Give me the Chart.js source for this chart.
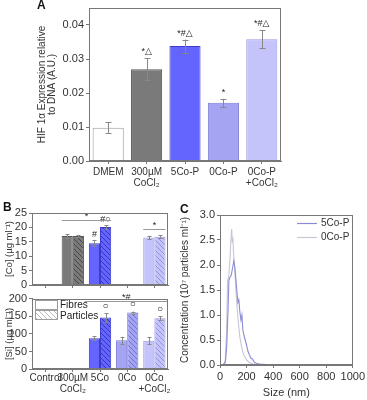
<!DOCTYPE html>
<html>
<head>
<meta charset="utf-8">
<script src="https://cdn.jsdelivr.net/npm/chart.js@4.4.1/dist/chart.umd.min.js"></script>
<style>
  body { margin: 0; background: #fff; }
  #fig { position: relative; width: 367px; height: 400px; overflow: hidden; background: #fff;
         font-family: "Liberation Sans", Arial, sans-serif; }
  canvas { position: absolute; }
  .tag { position: absolute; font-weight: bold; font-size: 12px; color: #111; z-index: 2; }
</style>
</head>
<body>
<div id="fig">
  <canvas id="chartA" width="300" height="200" style="left:0;top:0;width:300px;height:200px"></canvas>
  <canvas id="chartCo" width="180" height="92" style="left:0;top:200px;width:180px;height:92px"></canvas>
  <canvas id="chartSi" width="180" height="108" style="left:0;top:292px;width:180px;height:108px"></canvas>
  <canvas id="chartC" width="187" height="200" style="left:180px;top:200px;width:187px;height:200px"></canvas>
  <div class="tag" style="left:37px;top:-2px">A</div>
  <div class="tag" style="left:3px;top:200px">B</div>
  <div class="tag" style="left:180px;top:202px">C</div>
</div>
<script>
// ---- panel A: HIF 1a expression
const hifLabels = ['DMEM', ['300µM', 'CoCl₂'], '5Co-P', '0Co-P', ['0Co-P', '+CoCl₂']];
const hifValues = [0.0098, 0.0270, 0.0338, 0.0171, 0.0358];
const hifErrors = [0.0016, 0.0033, 0.0019, 0.0012, 0.0027];
const hifMarks = ['', '*△', '*#△', '*', '*#△'];

// ---- panel B: ion release
const ionLabels = ['Control', ['300µM', 'CoCl₂'], '5Co', '0Co', ['0Co', '+CoCl₂']];
const coFibres = [null, 17.0, 14.5, null, 16.5];
const coFibresErr = [0, 0.7, 1.0, 0, 0.6];
const coParticles = [null, 17.0, 20.1, null, 16.8];
const coParticlesErr = [0, 0.4, 0.6, 0, 0.4];
const siFibres = [null, null, 88, 82, 81];
const siFibresErr = [0, 0, 5, 10, 10];
const siParticles = [null, null, 147, 161, 145];
const siParticlesErr = [0, 0, 12, 3, 6];

// ---- panel C: particle size distribution
const size5Co = [0, 20, 40, 50, 60, 67, 75, 85, 95, 104, 112, 120, 128, 135, 142, 150, 158, 165, 172, 180, 190, 200, 210, 222, 232, 244, 260, 280, 300, 350, 400, 1000];
const conc5Co = [0, 0, 0.05, 0.35, 1.05, 1.7, 1.75, 1.8, 1.95, 2.08, 1.95, 1.7, 1.45, 1.25, 1.3, 1.05, 0.9, 1.0, 0.7, 0.6, 0.5, 0.4, 0.28, 0.2, 0.14, 0.12, 0.05, 0.03, 0.02, 0.01, 0, 0];
const size0Co = [0, 30, 40, 50, 57, 65, 75, 82, 88, 93, 97, 102, 110, 120, 130, 140, 150, 160, 170, 180, 200, 220, 250, 300, 1000];
const conc0Co = [0, 0, 0.1, 0.7, 1.7, 1.75, 2.1, 2.5, 2.72, 2.45, 2.55, 2.25, 1.95, 1.5, 1.1, 0.8, 0.55, 0.4, 0.28, 0.2, 0.1, 0.05, 0.02, 0, 0];

const groupFill = ['#ffffff', '#7a7a7a', '#6464ff', '#a4a4f2', '#c4c4fa'];
const groupEdge = ['#9a9a9a', '#555555', '#3c3cc8', '#7a7ad4', '#9898e0'];
const hatchInk = ['#999999', '#3a3a3a', '#2a2ab0', '#6666c8', '#8484d8'];

Chart.defaults.font.family = '"Liberation Sans", Arial, sans-serif';
Chart.defaults.color = '#333';
Chart.defaults.animation = false;

function hatch(bg, ink) {
  const s = 5, c = document.createElement('canvas');
  c.width = s; c.height = s;
  const g = c.getContext('2d');
  g.fillStyle = bg; g.fillRect(0, 0, s, s);
  g.strokeStyle = ink; g.lineWidth = 0.8;
  g.beginPath();
  g.moveTo(-1, -1); g.lineTo(s + 1, s + 1);
  g.moveTo(s - 1, -1); g.lineTo(s + 1, 1);
  g.moveTo(-1, s - 1); g.lineTo(1, s + 1);
  g.stroke();
  return g.createPattern(c, 'repeat');
}
const groupHatch = groupFill.map((c, i) => hatch(c, hatchInk[i]));

// box round the plot area
const frame = {
  id: 'frame',
  afterDraw(chart) {
    const a = chart.chartArea, ctx = chart.ctx;
    ctx.save();
    ctx.strokeStyle = '#777';
    ctx.lineWidth = 1;
    ctx.strokeRect(Math.round(a.left) + 0.5, Math.round(a.top) + 0.5,
      Math.round(a.width) - 1, Math.round(a.height) - 1);
    ctx.restore();
  }
};

// error bars + significance marks, read from dataset.errors / dataset.marks
const errbars = {
  id: 'errbars',
  afterDatasetsDraw(chart, args, opts) {
    const ctx = chart.ctx, ys = chart.scales.y;
    ctx.save();
    ctx.strokeStyle = opts.color || '#888';
    ctx.lineWidth = 1;
    ctx.fillStyle = '#222';
    ctx.textAlign = 'center';
    ctx.textBaseline = 'bottom';
    ctx.font = (opts.markSize || 9) + 'px "Liberation Sans", "DejaVu Sans", sans-serif';
    chart.data.datasets.forEach((ds, i) => {
      const errs = ds.errors || [], marks = ds.marks || [];
      chart.getDatasetMeta(i).data.forEach((bar, j) => {
        const v = ds.data[j];
        if (v == null) return;
        const e = errs[j] || 0;
        const top = ys.getPixelForValue(v + e), bot = ys.getPixelForValue(v - e);
        const x = Math.round(bar.x) + 0.5, cap = opts.cap || 2;
        if (e) {
          ctx.beginPath();
          ctx.moveTo(x, top); ctx.lineTo(x, bot);
          ctx.moveTo(x - cap, Math.round(top) + 0.5); ctx.lineTo(x + cap, Math.round(top) + 0.5);
          ctx.moveTo(x - cap, Math.round(bot) + 0.5); ctx.lineTo(x + cap, Math.round(bot) + 0.5);
          ctx.stroke();
        }
        if (marks[j]) ctx.fillText(marks[j], bar.x, top - (opts.gap || 2));
      });
    });
    ctx.restore();
  }
};

// horizontal comparison lines between bars
const brackets = {
  id: 'brackets',
  afterDatasetsDraw(chart, args, opts) {
    const ctx = chart.ctx, ys = chart.scales.y;
    ctx.save();
    ctx.strokeStyle = '#999';
    ctx.lineWidth = 1;
    ctx.fillStyle = '#222';
    ctx.textAlign = 'center';
    ctx.textBaseline = 'bottom';
    ctx.font = '9px "Liberation Sans", "DejaVu Sans", sans-serif';
    (opts.items || []).forEach(b => {
      const b0 = chart.getDatasetMeta(b.from[0]).data[b.from[1]];
      const b1 = chart.getDatasetMeta(b.to[0]).data[b.to[1]];
      const x0 = b0.x - b0.width / 2 - (b.padL || 0), x1 = b1.x + b1.width / 2 + (b.padR || 0);
      const y = Math.round(ys.getPixelForValue(b.value)) + 0.5;
      ctx.beginPath(); ctx.moveTo(x0, y); ctx.lineTo(x1, y); ctx.stroke();
      ctx.fillText(b.text, (x0 + x1) / 2, y + 1);
    });
    ctx.restore();
  }
};

const fibreLegend = {
  id: 'fibreLegend',
  afterDraw(chart) {
    const ctx = chart.ctx, a = chart.chartArea;
    const x = a.left + 3, y = a.top + 1;
    ctx.save();
    ctx.strokeStyle = '#999';
    ctx.lineWidth = 1;
    ctx.fillStyle = '#fff';
    ctx.fillRect(x, y, 22, 9);
    ctx.strokeRect(x + 0.5, y + 0.5, 22, 9);
    ctx.fillStyle = hatch('#ffffff', '#aaaaaa');
    ctx.fillRect(x, y + 10, 22, 9);
    ctx.strokeRect(x + 0.5, y + 10.5, 22, 9);
    ctx.fillStyle = '#222';
    ctx.font = '10px "Liberation Sans", Arial, sans-serif';
    ctx.textBaseline = 'middle';
    ctx.fillText('Fibres', x + 25, y + 5);
    ctx.fillText('Particles', x + 25, y + 16);
    ctx.restore();
  }
};

const sizeLegend = {
  id: 'sizeLegend',
  afterDraw(chart) {
    const ctx = chart.ctx;
    ctx.save();
    ctx.font = '10px "Liberation Sans", Arial, sans-serif';
    ctx.textBaseline = 'middle';
    chart.data.datasets.forEach((ds, i) => {
      const y = 23 + i * 14 + 0.5;
      ctx.strokeStyle = ds.borderColor;
      ctx.lineWidth = 1.2;
      ctx.beginPath(); ctx.moveTo(117, y); ctx.lineTo(137, y); ctx.stroke();
      ctx.fillStyle = '#333';
      ctx.fillText(ds.label, 141, y);
    });
    ctx.restore();
  }
};

function yAxis(width, min, max, step, title, titleSize, titlePad, fmt) {
  return {
    min, max,
    afterFit: s => { s.width = width; },
    border: { color: '#777' },
    grid: { drawOnChartArea: false, tickLength: 3, color: '#777' },
    ticks: { stepSize: step, includeBounds: false, autoSkip: false, padding: 2,
             font: { size: 11, lineHeight: 0.9 }, color: '#333',
             callback: fmt || (v => v) },
    title: { display: true, text: title, font: { size: titleSize, lineHeight: 1.0 }, padding: { top: titlePad, bottom: 0 }, color: '#333' }
  };
}

function catAxis(height, showLabels, pad, size) {
  return {
    afterFit: s => { s.height = height; },
    border: { color: '#777' },
    grid: { drawOnChartArea: false, tickLength: 3, color: '#777', offset: false },
    ticks: { display: showLabels, autoSkip: false, maxRotation: 0, minRotation: 0, padding: pad,
             font: { size: size, lineHeight: 1.1 }, color: '#333' }
  };
}

// ---------- A
new Chart(document.getElementById('chartA'), {
  type: 'bar',
  data: {
    labels: hifLabels,
    datasets: [{
      data: hifValues,
      errors: hifErrors,
      marks: hifMarks,
      backgroundColor: groupFill,
      borderColor: groupEdge,
      borderWidth: 1,
      barPercentage: 0.81,
      categoryPercentage: 1
    }]
  },
  options: {
    responsive: false,
    devicePixelRatio: 1,
    layout: { padding: { left: 0, right: 19, top: 8, bottom: 0 } },
    plugins: { legend: { display: false }, tooltip: { enabled: false },
               errbars: { cap: 3, gap: 2, markSize: 9 } },
    scales: {
      x: catAxis(39, true, 3, 10),
      y: yAxis(89, 0, 0.045, 0.01, ['HIF 1α Expression relative', 'to DNA (A.U.)'], 10, 37,
               v => v.toFixed(2))
    }
  },
  plugins: [frame, errbars]
});

// ---------- B, [Co]
new Chart(document.getElementById('chartCo'), {
  type: 'bar',
  data: {
    labels: ionLabels,
    datasets: [
      { label: 'Fibres', data: coFibres, errors: coFibresErr, marks: ['', '', '#', '', ''],
        backgroundColor: groupFill, borderColor: groupEdge, borderWidth: 1 },
      { label: 'Particles', data: coParticles, errors: coParticlesErr, marks: ['', '', '#○', '', ''],
        backgroundColor: groupHatch, borderColor: groupEdge, borderWidth: 1 }
    ]
  },
  options: {
    responsive: false,
    devicePixelRatio: 1,
    datasets: { bar: { barPercentage: 1, categoryPercentage: 0.82 } },
    layout: { padding: { left: 0, right: 12, top: 13, bottom: 0 } },
    plugins: {
      legend: { display: false }, tooltip: { enabled: false },
      errbars: { cap: 2, gap: 1, markSize: 9 },
      brackets: { items: [
        { from: [0, 1], to: [1, 2], value: 22.6, text: '*' },
        { from: [0, 4], to: [1, 4], value: 19.6, text: '*' }
      ] }
    },
    scales: {
      x: catAxis(5, false, 0, 10),
      y: yAxis(32, 0, 25, 5, '[Co] (µg ml⁻¹)', 9.5, 5)
    }
  },
  plugins: [frame, errbars, brackets]
});

// ---------- B, [Si]
new Chart(document.getElementById('chartSi'), {
  type: 'bar',
  data: {
    labels: ionLabels,
    datasets: [
      { label: 'Fibres', data: siFibres, errors: siFibresErr,
        backgroundColor: groupFill, borderColor: groupEdge, borderWidth: 1 },
      { label: 'Particles', data: siParticles, errors: siParticlesErr, marks: ['', '', '○', '○', '○'],
        backgroundColor: groupHatch, borderColor: groupEdge, borderWidth: 1 }
    ]
  },
  options: {
    responsive: false,
    devicePixelRatio: 1,
    datasets: { bar: { barPercentage: 1, categoryPercentage: 0.82 } },
    layout: { padding: { left: 0, right: 12, top: 5, bottom: 0 } },
    plugins: {
      legend: { display: false }, tooltip: { enabled: false },
      errbars: { cap: 2, gap: 2, markSize: 10 },
      brackets: { items: [
        { from: [0, 2], to: [1, 4], value: 194, text: '*#', padL: 4, padR: 2 }
      ] }
    },
    scales: {
      x: catAxis(31, true, 1, 10),
      y: yAxis(32, 0, 200, 50, '[Si] (µg ml⁻¹)', 9.5, 5)
    }
  },
  plugins: [frame, errbars, brackets, fibreLegend]
});

// ---------- C
new Chart(document.getElementById('chartC'), {
  type: 'line',
  data: {
    datasets: [
      { label: '5Co-P', data: size5Co.map((x, i) => ({ x, y: conc5Co[i] })),
        borderColor: '#8c8cd6', borderWidth: 1.1, pointRadius: 0, tension: 0 },
      { label: '0Co-P', data: size0Co.map((x, i) => ({ x, y: conc0Co[i] })),
        borderColor: '#c6c6d8', borderWidth: 1.1, pointRadius: 0, tension: 0 }
    ]
  },
  options: {
    responsive: false,
    devicePixelRatio: 1,
    layout: { padding: { left: 0, right: 12, top: 15, bottom: 0 } },
    plugins: { legend: { display: false }, tooltip: { enabled: false } },
    scales: {
      x: {
        type: 'linear', min: 0, max: 1000,
        afterFit: s => { s.height = 35; },
        border: { color: '#777' },
        grid: { drawOnChartArea: false, tickLength: 3, color: '#777' },
        ticks: { stepSize: 200, autoSkip: false, padding: 2, font: { size: 11 }, color: '#333',
                 maxRotation: 0, callback: v => v },
        title: { display: true, text: 'Size (nm)', font: { size: 11 }, padding: { top: 0, bottom: 0 }, color: '#333' }
      },
      y: yAxis(40, 0, 3, 0.5, 'Concentration (10⁷ particles ml⁻¹)', 10, 0, v => v.toFixed(1))
    }
  },
  plugins: [frame, sizeLegend]
});
</script>
</body>
</html>
